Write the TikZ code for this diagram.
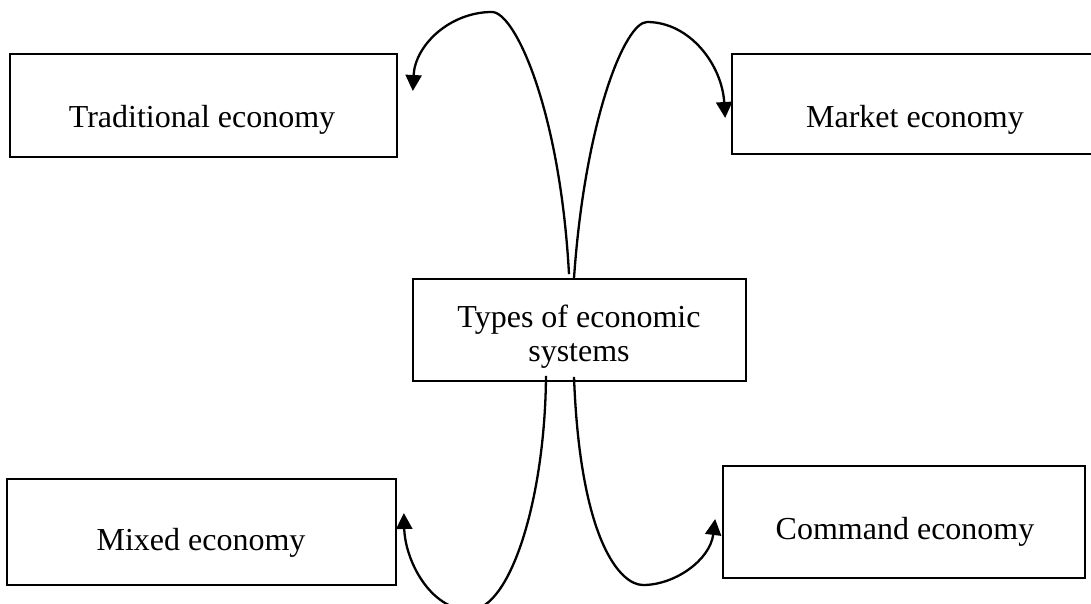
\documentclass[tikz,border=0pt]{standalone}
\usepackage{fontspec}
\setmainfont{Liberation Serif}
\usetikzlibrary{arrows.meta,calc}
\begin{document}
\begin{tikzpicture}[x=1pt,y=-1pt,
  box/.style={draw=black,line width=1.7pt,rectangle,inner sep=0pt},
  lbl/.style={anchor=base,inner sep=0pt,font=\fontsize{32}{34}\selectfont},
  conn/.style={line width=2.3pt,-{Triangle[length=16pt,width=16pt]}}]
\useasboundingbox (0,0) rectangle (1091,603);
% boxes
\node[box,minimum width=387pt,minimum height=103pt] (trad) at (203.5,105.5) {};
\node[box,minimum width=366pt,minimum height=100pt] (market) at (915,104) {};
\node[box,minimum width=333pt,minimum height=102pt] (sys) at (579.5,330) {};
\node[box,minimum width=389pt,minimum height=106pt] (mixed) at (201.5,532) {};
\node[box,minimum width=362pt,minimum height=112pt] (command) at (904,522) {};
% texts
\node[lbl] (tradt) at (202,127) {Traditional economy};
\node[lbl] (marktt) at (915,127) {Market economy};
\node[lbl] (syst1) at (579,327) {Types of economic};
\node[lbl] (syst2) at (579,361) {systems};
\node[lbl] (mixedt) at (201,550) {Mixed economy};
\node[lbl] (commandt) at (905,539) {Command economy};
% connectors
\draw[conn] ($(sys.north)+(-10.5,-4)$) .. controls (560,110) and (515,12) .. (492,12)
  .. controls (450,12) and (415,45) .. ($(trad.east)+(15,-14.5)$);
\draw[conn] ($(sys.north)+(-5.5,0)$) .. controls (585,120) and (625,22) .. (647,22)
  .. controls (690,22) and (722,65) .. ($(market.west)+(-6,14)$);
\draw[conn] ($(sys.south)+(-33.5,-6)$) .. controls (545,500) and (510,610) .. (470,610)
  .. controls (430,610) and (405,560) .. ($(mixed.east)+(7,-19)$);
\draw[conn] ($(sys.south)+(-5.5,-5)$) .. controls (580,540) and (620,585) .. (643,585)
  .. controls (675,585) and (710,560) .. ($(command.west)+(-7,-3)$);
\end{tikzpicture}
\end{document}
